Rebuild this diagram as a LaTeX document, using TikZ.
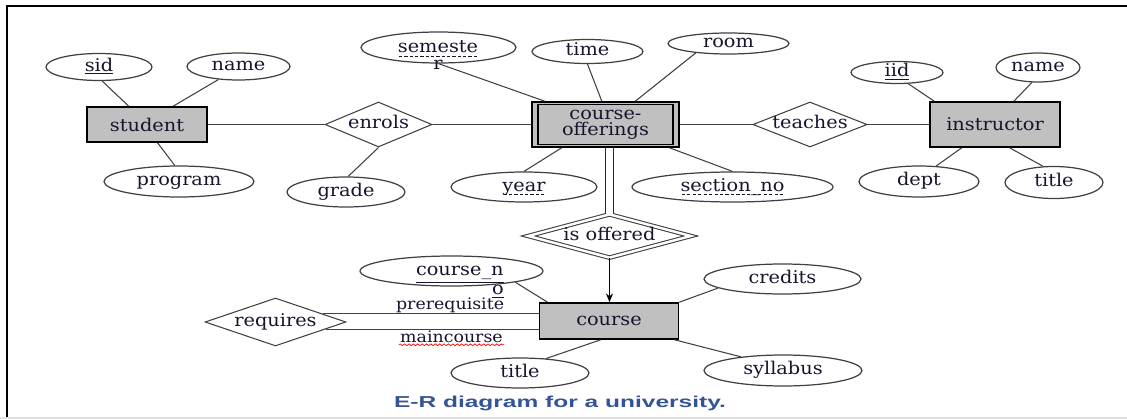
\documentclass[tikz,border=0pt]{standalone}
\usepackage{fontspec}
\setmainfont{DejaVu Serif}[FakeStretch=1.1]
\newfontfamily\capfont{Liberation Sans}[FakeStretch=1.55]
\usetikzlibrary{shapes.geometric, arrows.meta, decorations.pathmorphing}
\definecolor{boxgray}{RGB}{192, 192, 192}
\definecolor{linegray}{RGB}{64, 64, 64}
\definecolor{capblue}{RGB}{52, 84, 150}
\definecolor{inkblack}{RGB}{25, 20, 45}
% dashed underline for partial keys
\newcommand\dashul[1]{\setbox0=\hbox{#1}\rlap{\raisebox{-2.4pt}{\hbox to \wd0{%
    \xleaders\hbox to 3pt{\hss\vrule width 1.8pt height 0.45pt\hss}\hfil}}}\box0}

\begin{document}
\begin{tikzpicture}[
        x=0.02cm, y=-0.02cm,
        every node/.append style={text=inkblack},
        entity/.style={draw=black, line width=0.9pt, fill=boxgray, inner sep=0pt},
        attr/.style 2 args={ellipse, draw=linegray, line width=0.7pt, inner sep=0pt,
                    text height=6pt, text depth=1.4pt, minimum width=#1cm, minimum height=#2cm},
        rel/.style 2 args={diamond, draw=linegray, line width=0.6pt, inner sep=0pt, aspect=3,
                    text height=6pt, text depth=1.4pt, minimum width=#1cm, minimum height=#2cm},
        conn/.style={draw=linegray, line width=0.6pt},
        rolelbl/.style={font=\fontsize{9}{10}\selectfont, inner sep=0.5pt},
        splitlbl/.style={font=\fontsize{10}{9.6}\selectfont, inner sep=0pt}
      ]
        \useasboundingbox (0,0) rectangle (1127,419);
        % frame
        \draw[line width=1.1pt] (7,419) -- (7,6) -- (1127,6);
        \draw[black!12, line width=1pt] (0,418) -- (1127,418);

        % entities
        \node[entity, minimum width=2.4cm, minimum height=0.7cm] (student) at (147,124.5) {student};
        \node[entity, minimum width=2.94cm, minimum height=0.9cm, align=center,
              font=\fontsize{10}{9.2}\selectfont] (offering) at (605.5,124.5) {course-\\offerings};
        \draw[line width=0.9pt] ([shift={(0.14cm,-0.066cm)}]offering.north west)
              rectangle ([shift={(-0.14cm,0.066cm)}]offering.south east);
        \node[entity, minimum width=2.6cm, minimum height=0.9cm] (instructor) at (995,124.5) {instructor};
        \node[entity, minimum width=2.78cm, minimum height=0.72cm] (course) at (609,321) {course};

        % relationships
        \node[rel={2.14}{0.9}] (enrols) at (378.5,124.5) {enrols};
        \node[rel={2.28}{0.9}] (teaches) at (810,124.5) {teaches};
        \node[rel={3.26}{0.82}, double, double distance=1.4pt] (isoffered) at (609.5,236) {is offered};
        \node[rel={2.82}{0.96}] (requires) at (275.5,322) {requires};

        % attributes
        \node[attr={2.12}{0.54}] (sid) at (99,67) {\underline{sid}};
        \node[attr={2.06}{0.54}] (sname) at (238.5,66.5) {name};
        \node[attr={3.0}{0.62}] (program) at (179,181.5) {program};
        \node[attr={2.36}{0.6}] (grade) at (346,192) {grade};
        \node[attr={3.1}{0.62}] (semester) at (438.5,47.5) {};
        \node[splitlbl, align=center] (semtext) at (438,55) {\dashul{semeste}\\r};
        \node[attr={2.22}{0.48}] (time) at (587.5,51.5) {time};
        \node[attr={2.42}{0.42}] (room) at (728.5,43.5) {room};
        \node[attr={2.92}{0.6}] (year) at (524,187) {\dashul{year}};
        \node[attr={4.02}{0.6}] (section) at (732.5,187) {\dashul{section\_no}};
        \node[attr={1.84}{0.44}] (iid) at (897,72.5) {\underline{iid}};
        \node[attr={1.68}{0.58}] (iname) at (1038,67.5) {name};
        \node[attr={2.4}{0.62}] (dept) at (919,181.5) {dept};
        \node[attr={1.96}{0.64}] (ititle) at (1054,182.5) {title};
        \node[attr={3.14}{0.6}] (credits) at (782.5,279) {credits};
        \node[attr={3.16}{0.62}] (syllabus) at (783,370.5) {syllabus};
        \node[attr={2.76}{0.6}] (ctitle) at (520,373) {title};
        \node[attr={3.66}{0.6}] (courseno) at (451.5,271) {};
        \node[splitlbl, align=right, anchor=east] (cnotext) at (504,282)
              {\underline{course\_n}\\\underline{o}};

        % connectors
        \draw[conn] (sid.-77) -- (student.135);
        \draw[conn] (sname.-147) -- (student.35);
        \draw[conn] (program.105) -- (student.-60);
        \draw[conn] (student) -- (enrols);
        \draw[conn] (grade.82) -- (enrols.south);
        \draw[conn] (enrols) -- (offering);
        \draw[conn] (semester.south) -- (offering.159);
        \draw[conn] (time.south) -- (offering.99);
        \draw[conn] (room.-164) -- (offering.38);
        \draw[conn] (year.north) -- (offering.-152);
        \draw[conn] (section.north) -- (offering.-20);
        \draw[conn] (offering) -- (teaches);
        \draw[conn] (teaches) -- (instructor);
        \draw[conn] (iid.-45) -- (instructor.159);
        \draw[conn] (iname.-112) -- (instructor.51);
        \draw[conn] (dept.42) -- (instructor.-145);
        \draw[conn] (ititle.124) -- (instructor.-58);
        \draw[draw=black!85, line width=0.8pt, double, double distance=3.6pt]
              (isoffered.north) -- (isoffered.north |- offering.south);
        \draw[conn, draw=black, -{Stealth[length=5pt, width=4pt]}] (isoffered.south) -- (isoffered.south |- course.north);
        \draw[conn] (credits.-172) -- (course.north east);
        \draw[conn] (syllabus.162) -- (course.-16);
        \draw[conn] (ctitle.29) -- (course.-114);
        \draw[conn] (courseno.-10) -- (course.163);
        \draw[conn] (requires.10) -- node[rolelbl, above, pos=0.59] (prereq) {prerequisite}
              (requires.10 -| course.west);
        \draw[conn] (requires.-8) -- node[rolelbl, below, pos=0.59] (maincourse) {maincourse}
              (requires.-8 -| course.west);
        \draw[red, line width=0.4pt, decorate, decoration={snake, amplitude=0.5pt, segment length=2.5pt}]
              ([yshift=-1.5pt]maincourse.base west) -- ([yshift=-1.5pt]maincourse.base east);

        % caption
        \node[text=capblue, font=\capfont\bfseries\fontsize{9}{11}\selectfont] (caption) at (560,403)
              {E-R diagram for a university.};
      \end{tikzpicture}
\end{document}
